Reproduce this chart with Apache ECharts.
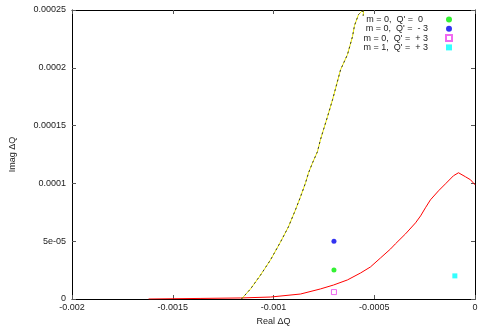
<!DOCTYPE html>
<html><head><meta charset="utf-8">
<script src="https://cdn.jsdelivr.net/npm/echarts@6/dist/echarts.min.js"></script>
<style>html,body{margin:0;padding:0;background:#fff}#c{width:491px;height:327px}</style>
</head><body><div id="c"></div>
<script>
var xTickLabels = ['-0.002', '-0.0015', '-0.001', '-0.0005', '0'];
var yTickLabels = ['0', '5e-05', '0.0001', '0.00015', '0.0002', '0.00025'];

var redX = [-0.00162, -0.00136, -0.001164, -0.001015, -0.000866, -0.000767, -0.000702, -0.000633, -0.000568, -0.000519, -0.000469, -0.000419, -0.000395, -0.000345, -0.000295, -0.00027, -0.000246, -0.000221, -0.000181, -0.000146, -0.000107, -0.000082, -0.000047, -0.000022, 0];
var redY = [0, 0.0000005, 0.0000009, 0.0000017, 0.0000043, 0.0000087, 0.0000121, 0.0000165, 0.0000225, 0.0000277, 0.0000355, 0.0000433, 0.0000477, 0.0000563, 0.0000659, 0.0000719, 0.0000789, 0.0000858, 0.0000936, 0.0000997, 0.0001066, 0.0001092, 0.0001057, 0.0001031, 0.0000988];

var dashX = [-0.001159, -0.001114, -0.001064, -0.001015, -0.000965, -0.000926, -0.000891, -0.000866, -0.000841, -0.000826, -0.000806, -0.000782, -0.000767, -0.000752, -0.000732, -0.000707, -0.000667, -0.000633, -0.000608, -0.000598, -0.000578, -0.000563, -0.000553, -0.000555];
var dashY = [0, 0.0000087, 0.0000208, 0.0000338, 0.0000494, 0.0000624, 0.0000771, 0.0000884, 0.0001005, 0.0001092, 0.0001179, 0.0001274, 0.0001378, 0.0001464, 0.0001577, 0.0001724, 0.0001984, 0.0002114, 0.000227, 0.0002366, 0.0002461, 0.0002487, 0.000249, 0.000245];

var ptNames = ["m = 0,  Q' =  0", "m = 0,  Q' =  - 3", "m = 0,  Q' =  + 3", "m = 1,  Q' =  + 3"];
var ptX = [-0.0007, -0.0007, -0.0007, -0.0001];
var ptY = [0.000025, 0.00005, 0.000006, 0.00002];

function zip(a, b) { return a.map(function (v, i) { return [v, b[i]]; }); }

var font = 'Liberation Sans, Arial, sans-serif';
var chart = echarts.init(document.getElementById('c'));
var axisLine = { show: true, onZero: false, lineStyle: { color: '#000', width: 1 } };
var tick = { show: true, inside: true, length: 4, lineStyle: { color: '#555' } };
var legRich = function (pad) {
  return { fontFamily: font, fontSize: 9, color: '#222',
    rich: { a: { width: 80, align: 'right', padding: [0, pad, 0, 0], lineHeight: 9, fontFamily: font, fontSize: 9, color: '#222' } } };
};

var option = {
  animation: false,
  backgroundColor: '#fff',
  grid: { left: 72, right: 16, top: 10, bottom: 28, containLabel: false, outerBoundsMode: 'none' },
  xAxis: [{
    type: 'value', min: -0.002, max: 0, interval: 0.0005,
    name: 'Real ΔQ', nameLocation: 'middle', nameGap: 18,
    nameTextStyle: { fontFamily: font, fontSize: 9, color: '#222' },
    axisLine: axisLine, axisTick: tick, splitLine: { show: false },
    axisLabel: { fontFamily: font, fontSize: 9, color: '#222', margin: 4,
      formatter: function (v) { return xTickLabels[Math.round((v + 0.002) / 0.0005)]; } }
  }, {
    type: 'value', position: 'top', min: -0.002, max: 0, interval: 0.0005,
    axisLine: axisLine, axisTick: tick, axisLabel: { show: false }, splitLine: { show: false }
  }],
  yAxis: [{
    type: 'value', min: 0, max: 0.00025, interval: 0.00005,
    name: 'Imag ΔQ', nameLocation: 'middle', nameGap: 55, nameRotate: 90,
    nameTextStyle: { fontFamily: font, fontSize: 9, color: '#222' },
    axisLine: axisLine, axisTick: tick, splitLine: { show: false },
    axisLabel: { fontFamily: font, fontSize: 9, color: '#222', margin: 6,
      formatter: function (v) { return yTickLabels[Math.round(v / 0.00005)]; } }
  }, {
    type: 'value', position: 'right', min: 0, max: 0.00025, interval: 0.00005,
    axisLine: axisLine, axisTick: tick, axisLabel: { show: false }, splitLine: { show: false }
  }],
  legend: {
    orient: 'vertical', right: 33, top: 10, itemGap: 0.3, align: 'right',
    itemWidth: 6, itemHeight: 6,
    data: [
      { name: ptNames[0], icon: 'circle', textStyle: legRich(18) },
      { name: ptNames[1], icon: 'circle' },
      { name: ptNames[2], icon: 'rect' },
      { name: ptNames[3], icon: 'rect' }
    ],
    formatter: function (n) { return '{a|' + n + '}'; },
    textStyle: legRich(13)
  },
  series: [
    { type: 'line', data: zip(redX, redY), showSymbol: false, symbol: 'none',
      lineStyle: { color: '#ff0000', width: 1 }, z: 2 },
    { type: 'line', data: zip(dashX, dashY), showSymbol: false, symbol: 'none',
      lineStyle: { color: '#e8e800', width: 1 }, z: 3 },
    { type: 'line', data: zip(dashX, dashY), showSymbol: false, symbol: 'none',
      lineStyle: { color: '#333', width: 1, type: [2, 3] }, z: 4 },
    { name: ptNames[0], type: 'scatter', data: [[ptX[0], ptY[0]]], symbol: 'circle', symbolSize: 5,
      itemStyle: { color: '#00ee00' }, z: 5 },
    { name: ptNames[1], type: 'scatter', data: [[ptX[1], ptY[1]]], symbol: 'circle', symbolSize: 5,
      itemStyle: { color: '#0000ee' }, z: 5 },
    { name: ptNames[2], type: 'scatter', data: [[ptX[2], ptY[2]]], symbol: 'rect', symbolSize: 5,
      itemStyle: { color: 'rgba(0,0,0,0)', borderColor: '#ee44ee', borderWidth: 1 }, z: 5 },
    { name: ptNames[3], type: 'scatter', data: [[ptX[3], ptY[3]]], symbol: 'rect', symbolSize: 5,
      itemStyle: { color: '#00ffff' }, z: 5 }
  ]
};
chart.setOption(option);
</script></body></html>
